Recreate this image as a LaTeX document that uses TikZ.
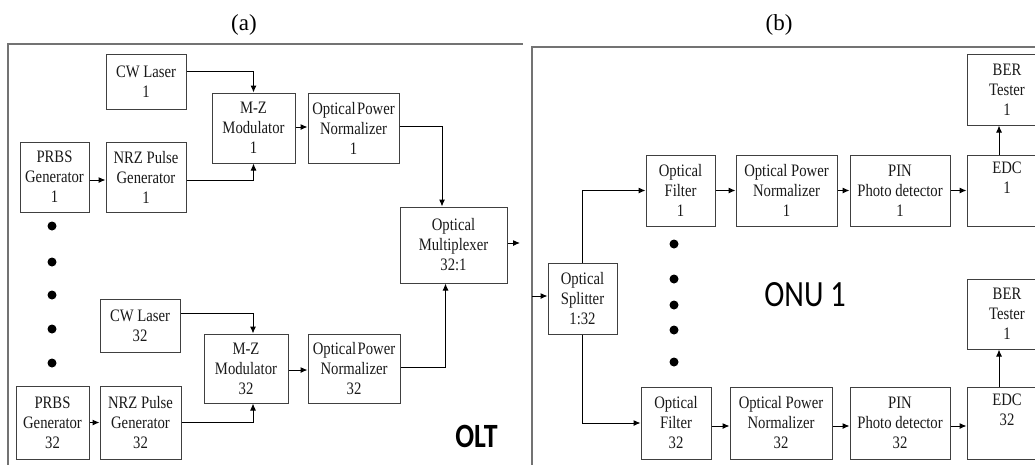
\documentclass[tikz,border=0pt]{standalone}
\usepackage{fontspec}
\usetikzlibrary{arrows.meta}
\setmainfont{Liberation Serif}
\newfontfamily\boxfont[FakeStretch=0.84]{Liberation Serif}
\newfontfamily\labfont[FakeStretch=0.82]{Carlito}
\begin{document}
\begin{tikzpicture}[x=1pt,y=-1pt,
  box/.style={draw=black!75,line width=1pt,inner sep=0pt,align=center,
    font=\boxfont\fontsize{17.5}{20}\selectfont,text=black!90},
  arr/.style={draw=black,line width=1pt,-{Latex[length=7pt,width=6pt]}},
  frame/.style={draw=black!55,line width=1.4pt},
  dot/.style={fill=black,draw=none,circle,minimum size=9pt,inner sep=0pt},
  title/.style={font=\fontsize{23}{26}\selectfont}]
\useasboundingbox (0,0) rectangle (1035,464);
% frames
\draw[frame] (8,470) -- (8,44) -- (523,44);
\draw[frame] (532,470) -- (532,47) -- (1040,47);
\node[title] (ta) at (244,25) {(a)};
\node[title] (tb) at (779,25) {(b)};
% left panel boxes
\node[box,minimum width=80pt,minimum height=55pt] (cw1) at (146,81.5) {CW Laser\\1};
\node[box,minimum width=83pt,minimum height=70pt] (mz1) at (253.5,128) {M-Z\\Modulator\\1};
\node[box,minimum width=91pt,minimum height=70pt] (opn1) at (353.5,128) {Optical\hspace{1.5pt}Power\\Normalizer\\1};
\node[box,minimum width=69pt,minimum height=70pt] (prbs1) at (54.5,177) {PRBS\\Generator\\1};
\node[box,minimum width=80pt,minimum height=70pt] (nrz1) at (146,177) {NRZ Pulse\\Generator\\1};
\node[box,minimum width=107pt,minimum height=76pt] (mux) at (453.5,245) {Optical\\Multiplexer\\32:1};
\node[box,minimum width=80pt,minimum height=53pt] (cw32) at (140,325.5) {CW Laser\\32};
\node[box,minimum width=84pt,minimum height=69pt] (mz32) at (246,368.5) {M-Z\\Modulator\\32};
\node[box,minimum width=92pt,minimum height=69pt] (opn32) at (354,368.5) {Optical\hspace{1.5pt}Power\\Normalizer\\32};
\node[box,minimum width=73pt,minimum height=73pt] (prbs32) at (52.5,422.5) {PRBS\\Generator\\32};
\node[box,minimum width=81pt,minimum height=73pt] (nrz32) at (140.5,422.5) {NRZ Pulse\\Generator\\32};
% left arrows
\draw[arr] ([yshift=10.5pt]cw1.east) -| (mz1.north);
\draw[arr] ([yshift=-3pt]nrz1.east) -| (mz1.south);
\draw[arr] ([yshift=1pt]mz1.east) -- ([yshift=1pt]opn1.west);
\draw[arr] ([yshift=2pt]opn1.east) -| ([xshift=-11.5pt]mux.north);
\draw[arr] ([yshift=-3pt]prbs1.east) -- ([yshift=-3pt]nrz1.west);
\draw[arr] ([yshift=12.5pt]cw32.east) -| ([xshift=7pt]mz32.north);
\draw[arr] (nrz32.east) -| ([xshift=7pt]mz32.south);
\draw[arr] ([yshift=-1.5pt]mz32.east) -- ([yshift=-1.5pt]opn32.west);
\draw[arr] ([yshift=1.5pt]opn32.east) -| ([xshift=-8pt]mux.south);
\draw[arr] (prbs32.east) -- (nrz32.west);
\coordinate (muxout) at (520,243);
\draw[arr] ([yshift=2pt]mux.east) -- (muxout);
% left dots
\foreach \yy [count=\i] in {226,262,295,329,363} \node[dot] (ld\i) at (52,\yy) {};
\node[font=\labfont\bfseries\fontsize{34}{36}\selectfont] (olt) at (476.5,436) {OLT};
% right panel boxes
\node[box,minimum width=69pt,minimum height=71pt] (spl) at (582.5,298.5) {Optical\\Splitter\\1:32};
\node[box,minimum width=69pt,minimum height=71pt] (f1) at (680.5,190.5) {Optical\\Filter\\1};
\node[box,minimum width=101pt,minimum height=71pt] (nb1) at (786.5,190.5) {Optical Power\\Normalizer\\1};
\node[box,minimum width=100pt,minimum height=71pt] (pin1) at (900,190.5) {PIN\\Photo detector\\1};
\node[box,minimum width=80pt,minimum height=71pt] (edc1) at (1007,190.5) {EDC\\1\\\strut};
\node[box,minimum width=80pt,minimum height=71pt] (ber1) at (1007,89.5) {BER\\Tester\\1};
\node[box,minimum width=70pt,minimum height=72pt] (f32) at (676,423) {Optical\\Filter\\32};
\node[box,minimum width=102pt,minimum height=72pt] (nb32) at (781,423) {Optical Power\\Normalizer\\32};
\node[box,minimum width=100pt,minimum height=72pt] (pin32) at (900,423) {PIN\\Photo detector\\32};
\node[box,minimum width=80pt,minimum height=72pt] (edc32) at (1007,423) {EDC\\32\\\strut};
\node[box,minimum width=80pt,minimum height=70pt] (ber32) at (1007,314) {BER\\Tester\\1};
% right arrows
\coordinate (splin) at (532,296);
\draw[arr] (splin) -- (splin -| spl.west);
\draw[arr] (spl.north) |- (f1.west);
\draw[arr] (spl.south) |- (f32.west);
\draw[arr] (f1.east) -- (nb1.west);
\draw[arr] (nb1.east) -- (pin1.west);
\draw[arr] (pin1.east) -- (edc1.west);
\draw[arr] ([xshift=-8pt]edc1.north) -- ([xshift=-8pt]ber1.south);
\draw[arr] ([yshift=-3pt]f32.east) -- ([yshift=-3pt]nb32.west);
\draw[arr] ([yshift=-3pt]nb32.east) -- ([yshift=-3pt]pin32.west);
\draw[arr] ([yshift=-3pt]pin32.east) -- ([yshift=-3pt]edc32.west);
\draw[arr] ([xshift=-8pt]edc32.north) -- ([xshift=-8pt]ber32.south);
% right dots
\foreach \yy [count=\i] in {244,279,305,330,362} \node[dot] (rd\i) at (674,\yy) {};
\node[font=\labfont\fontsize{37}{40}\selectfont] (onu) at (805,295) {ONU 1};
\end{tikzpicture}
\end{document}
